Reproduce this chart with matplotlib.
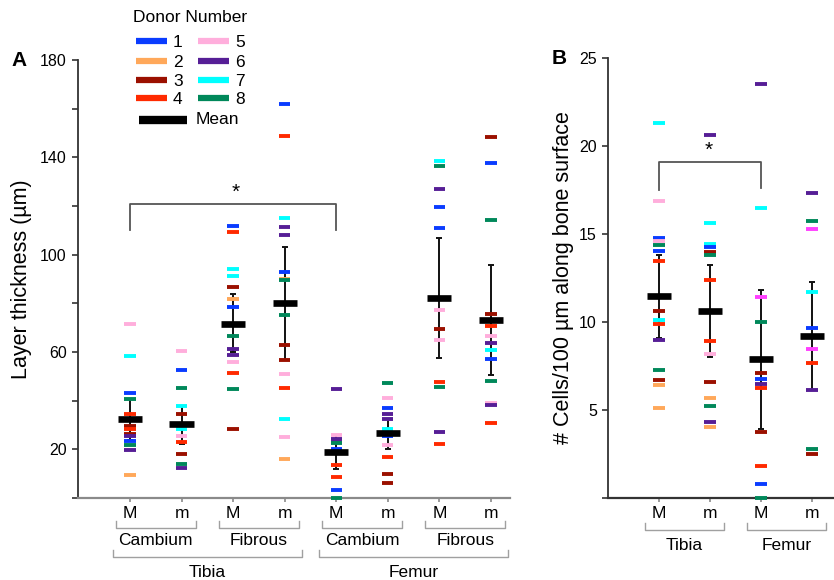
import matplotlib
matplotlib.use("Agg")
import matplotlib.pyplot as plt
import matplotlib.transforms as mtransforms
from matplotlib.lines import Line2D

plt.rcParams['font.family'] = ['Liberation Sans', 'DejaVu Sans']

# ---------------------------------------------------------------------------
# data
# ---------------------------------------------------------------------------
donor_colors = {1: '#0a3cff', 2: '#ffa85a', 3: '#9b1000', 4: '#ff2a00',
                5: '#ffaedc', 6: '#561e96', 7: '#00ffff', 8: '#00885a',
                9: '#ff40ff'}  # 9 = donor 5 as drawn in magenta in panel B

# panel A: Tibia Cambium M/m, Tibia Fibrous M/m, Femur Cambium M/m, Femur Fibrous M/m
a_ticks = ['M', 'm', 'M', 'm', 'M', 'm', 'M', 'm']
a_layers = ['Cambium', 'Fibrous', 'Cambium', 'Fibrous']
a_bones = ['Tibia', 'Femur']
a_vals = [
    [71.4, 58.4, 43.2, 40.6, 34.7, 29.5, 28.4, 26.5, 25.3, 23.3, 21.6, 19.9, 9.6],
    [60.6, 52.4, 45.0, 37.6, 34.7, 28.4, 25.6, 23.0, 17.9, 14.1, 12.3],
    [111.8, 109.4, 94.1, 91.2, 86.9, 81.6, 78.4, 66.5, 61.3, 58.6, 55.9, 51.4, 44.7, 28.2],
    [162.0, 148.9, 114.9, 111.5, 107.9, 92.8, 90.1, 89.7, 75.0, 62.8, 56.9, 51.1, 45.2, 32.3, 25.2, 15.9],
    [44.7, 25.8, 24.4, 23.4, 22.5, 20.3, 13.7, 8.8, 3.1, 0.0],
    [47.2, 41.0, 37.0, 34.7, 32.6, 28.4, 25.5, 21.9, 17.0, 10.0, 6.0],
    [138.6, 136.5, 127.1, 119.6, 110.9, 77.3, 69.4, 64.9, 47.7, 45.8, 27.1, 22.2],
    [148.4, 137.8, 114.1, 75.8, 70.5, 66.4, 63.6, 60.9, 57.2, 47.9, 39.2, 38.1, 30.8],
]
a_donors = [
    [5, 7, 1, 8, 4, 3, 4, 3, 6, 1, 8, 6, 2],
    [5, 1, 8, 7, 3, 7, 5, 4, 3, 8, 6],
    [1, 4, 7, 7, 3, 2, 1, 8, 6, 6, 5, 4, 8, 3],
    [1, 4, 7, 6, 6, 1, 2, 8, 8, 3, 3, 5, 4, 7, 5, 2],
    [6, 5, 6, 6, 8, 1, 4, 4, 1, 8],
    [8, 5, 1, 6, 6, 7, 1, 5, 4, 3, 3],
    [7, 8, 6, 1, 1, 5, 3, 5, 4, 8, 6, 4],
    [3, 1, 8, 3, 4, 5, 6, 7, 1, 8, 5, 6, 4],
]
a_mean = [32.6, 30.3, 71.3, 80.2, 18.8, 26.9, 82.0, 73.1]
a_err_lo = [24.0, 22.3, 60.0, 56.9, 12.0, 20.3, 57.6, 50.5]
a_err_hi = [40.6, 37.6, 83.7, 103.0, 25.8, 32.6, 106.8, 95.7]

# panel B: Tibia M/m, Femur M/m
b_ticks = ['M', 'm', 'M', 'm']
b_bones = ['Tibia', 'Femur']
b_vals = [
    [21.3, 16.9, 14.8, 14.6, 14.4, 14.05, 13.45, 10.6, 10.1, 9.9, 9.0, 7.27, 6.72, 6.4, 5.1],
    [20.6, 15.6, 14.45, 14.26, 13.96, 13.8, 12.4, 8.94, 8.2, 6.57, 5.7, 5.23, 4.34, 4.03],
    [23.5, 16.5, 11.4, 9.98, 7.1, 6.76, 6.5, 6.23, 3.73, 1.8, 0.81, 0.0],
    [17.35, 15.76, 15.3, 11.7, 9.64, 8.48, 7.67, 6.14, 2.77, 2.52],
]
b_donors = [
    [7, 5, 1, 5, 8, 1, 4, 3, 7, 4, 6, 8, 3, 2, 2],
    [6, 7, 7, 1, 3, 8, 4, 4, 5, 3, 2, 8, 6, 2],
    [6, 7, 9, 8, 3, 1, 6, 4, 3, 4, 1, 8],
    [6, 8, 9, 7, 1, 9, 4, 6, 8, 3],
]
b_mean = [11.46, 10.6, 7.88, 9.22]
b_err_lo = [9.1, 8.03, 3.92, 6.14]
b_err_hi = [13.8, 13.26, 11.8, 12.27]


# ---------------------------------------------------------------------------
# helpers
# ---------------------------------------------------------------------------
def draw_column(ax, x, vals, donors, mean, lo, hi, hw=0.11, mhw=0.235):
    ax.errorbar([x], [mean], yerr=[[mean - lo], [hi - mean]], fmt='none',
                ecolor='#111111', elinewidth=1.4, capsize=2.5, capthick=1.4,
                zorder=2)
    for v, d in zip(vals, donors):
        ax.hlines(v, x - hw, x + hw, colors=donor_colors[d], linewidth=2.8,
                  zorder=3, clip_on=False)
    ax.hlines(mean, x - mhw, x + mhw, colors='black', linewidth=4.8, zorder=4)


def style_axes(ax):
    for s in ('top', 'right'):
        ax.spines[s].set_visible(False)
    ax.spines['left'].set_color('#333333')
    ax.spines['bottom'].set_color('#8a8a8a')
    ax.spines['left'].set_linewidth(1.3)
    ax.spines['bottom'].set_linewidth(1.6)
    ax.tick_params(axis='y', direction='out', length=4, width=1.2,
                   color='#333333', labelsize=11.5, pad=4)
    ax.tick_params(axis='x', direction='out', length=3, width=1.2,
                   color='#8a8a8a', labelsize=12.5, pad=3)


def group_bracket(ax, x0, x1, y_line, y_end, label, y_text, size=12.5):
    trans = mtransforms.blended_transform_factory(ax.transData, ax.transAxes)
    ax.plot([x0, x0, x1, x1], [y_end, y_line, y_line, y_end], color='#a0a0a0',
            lw=1.0, transform=trans, clip_on=False)
    ax.text((x0 + x1) / 2, y_text, label, transform=trans, ha='center',
            va='center', fontsize=size)


fig = plt.figure(figsize=(8.34, 5.8), dpi=100)

# ---------------------------------------------------------------------------
# panel A
# ---------------------------------------------------------------------------
axA = fig.add_axes([0.0935, 0.1414, 0.518, 0.7552])
for i in range(len(a_vals)):
    draw_column(axA, i, a_vals[i], a_donors[i], a_mean[i], a_err_lo[i], a_err_hi[i])
axA.set_xlim(-1.01, 7.37)
axA.set_ylim(0, 180)
axA.set_yticks(range(0, 181, 20))
axA.set_yticklabels(['' if t % 40 == 0 else str(t) for t in range(0, 181, 20)])
axA.set_xticks(range(8))
axA.set_xticklabels(a_ticks)
style_axes(axA)
axA.set_ylabel('Layer thickness (µm)', fontsize=15.5, labelpad=6)

for k, lab in enumerate(a_layers):
    c = 2 * k + 0.5
    group_bracket(axA, c - 0.78, c + 0.78, -0.0685, -0.0525, lab, -0.098)
for k, lab in enumerate(a_bones):
    c = 4 * k + 1.5
    group_bracket(axA, c - 1.83, c + 1.83, -0.1347, -0.1187, lab, -0.171)

# significance bracket
axA.plot([0, 0, 4, 4], [110, 121, 121, 110], color='#555555', lw=1.3, zorder=1)
axA.text(2.05, 121.5, '*', ha='center', va='bottom', fontsize=15)

# ---------------------------------------------------------------------------
# panel B
# ---------------------------------------------------------------------------
axB = fig.add_axes([0.729, 0.1414, 0.271, 0.7586])
for i in range(len(b_vals)):
    draw_column(axB, i, b_vals[i], b_donors[i], b_mean[i], b_err_lo[i], b_err_hi[i],
                hw=0.11, mhw=0.23)
axB.set_xlim(-1.0, 3.43)
axB.set_ylim(0, 25)
axB.set_yticks(range(0, 26, 5))
axB.set_yticklabels(['' if t == 0 else str(t) for t in range(0, 26, 5)])
axB.set_xticks(range(4))
axB.set_xticklabels(b_ticks)
style_axes(axB)
axB.spines['bottom'].set_color('#333333')
axB.set_ylabel('# Cells/100 µm along bone surface', fontsize=15.5, labelpad=4)

for k, lab in enumerate(b_bones):
    c = 2 * k + 0.5
    group_bracket(axB, c - 0.78, c + 0.78, -0.0727, -0.0568, lab, -0.107)

axB.plot([0, 0, 2, 2], [17.5, 19.1, 19.1, 17.6], color='#555555', lw=1.3, zorder=1)
axB.text(0.98, 19.2, '*', ha='center', va='bottom', fontsize=15)

# panel letters
fig.text(11 / 834, 1 - 60 / 580, 'A', fontsize=15, fontweight='bold', ha='left', va='center')
fig.text(552 / 834, 1 - 58 / 580, 'B', fontsize=15, fontweight='bold', ha='left', va='center')

# ---------------------------------------------------------------------------
# legend (drawn by hand to match the two-column layout)
# ---------------------------------------------------------------------------
W, H = 834.0, 580.0
fig.text(133 / W, 1 - 18 / H, 'Donor Number', fontsize=12.5, ha='left', va='center')
rows_y = [41, 61, 80, 98]
for j in range(8):
    col, row = divmod(j, 4)
    x0 = 136 + 62 * col
    y = 1 - rows_y[row] / H
    fig.add_artist(Line2D([x0 / W, (x0 + 31) / W], [y, y], color=donor_colors[j + 1],
                          lw=4.5, solid_capstyle='butt'))
    fig.text((x0 + 37) / W, y - 0.002, str(j + 1), fontsize=12.5, ha='left', va='center')
ym = 1 - 120 / H
fig.add_artist(Line2D([139 / W, 187 / W], [ym, ym], color='black', lw=6,
                      solid_capstyle='butt'))
fig.text(196 / W, ym, 'Mean', fontsize=12.5, ha='left', va='center')

fig.savefig('out.png', dpi=100)
